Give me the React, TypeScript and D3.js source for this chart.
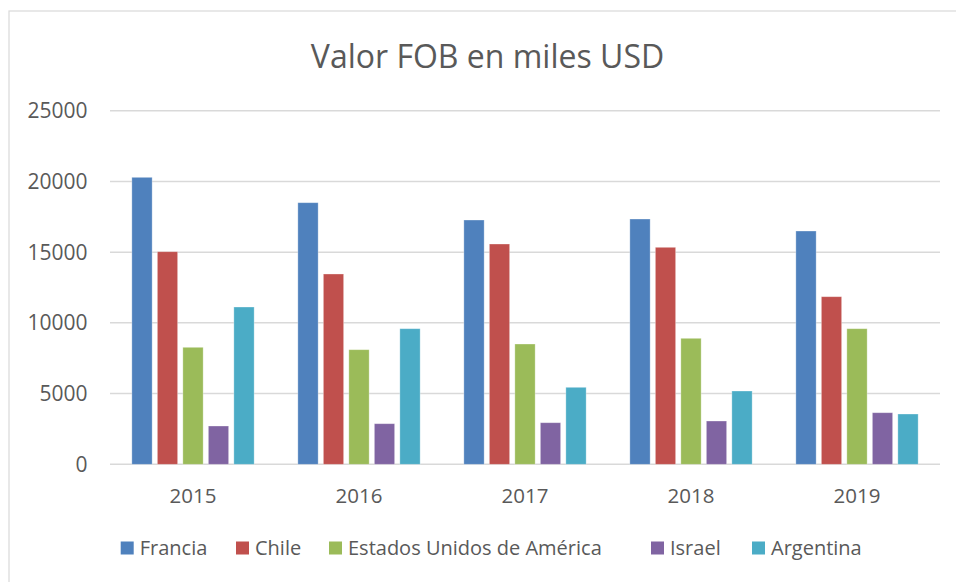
import React from "react";
import * as d3 from "d3";

const years = ["2015", "2016", "2017", "2018", "2019"];
const seriesNames = ["Francia", "Chile", "Estados Unidos de América", "Israel", "Argentina"];
const francia = [20290, 18496, 17272, 17343, 16494];
const chile = [15031, 13455, 15575, 15342, 11850];
const eeuu = [8272, 8103, 8505, 8908, 9587];
const israel = [2708, 2871, 2941, 3061, 3648];
const argentina = [11121, 9588, 5444, 5182, 3556];
const yTicks = [0, 5000, 10000, 15000, 20000, 25000];
const colors = ["#4F81BD", "#C0504D", "#9BBB59", "#8064A2", "#4BACC6"];
const title = "Valor FOB en miles USD";

const seriesValues = [francia, chile, eeuu, israel, argentina];

const W = 956;
const H = 582;
const FONT = "'Open Sans', 'Liberation Sans', sans-serif";
const TXT = "#595959";

export default function App() {
  const x0 = d3.scaleBand<string>().domain(years).range([110, 940]).padding(0);
  const groupW = 122.3;
  const x1 = d3
    .scaleBand<string>()
    .domain(seriesNames)
    .range([-groupW / 2, groupW / 2])
    .paddingInner(0.204)
    .paddingOuter(0);
  const y = d3.scaleLinear().domain([0, 25000]).range([464.3, 110.7]);

  const legendX = [120.7, 236, 329, 651, 752];

  return (
    <svg
      width={W}
      height={H}
      style={{ position: "absolute", left: 0, top: 0, background: "#fff" }}
      fontFamily={FONT}
    >
      <rect x={0} y={0} width={W} height={H} fill="#fff" />
      <rect x={9} y={11} width={W + 10} height={H + 10} fill="none" stroke="#D9D9D9" strokeWidth={1.2} />
      <text x={487.5} y={67.5} textAnchor="middle" fontSize={32} fill={TXT}>
        {title}
      </text>
      {yTicks.map((t) => (
        <g key={t}>
          <line x1={110} x2={940} y1={y(t)} y2={y(t)} stroke="#D9D9D9" strokeWidth={1.5} />
          <text x={87.5} y={y(t)} dy="0.36em" textAnchor="end" fontSize={21} fill={TXT}>
            {t}
          </text>
        </g>
      ))}
      {years.map((yr, i) => (
        <g key={yr} transform={`translate(${(x0(yr) as number) + x0.bandwidth() / 2},0)`}>
          {seriesNames.map((s, j) => (
            <rect
              key={s}
              x={x1(s) as number}
              y={y(seriesValues[j][i])}
              width={x1.bandwidth()}
              height={y(0) - y(seriesValues[j][i])}
              fill={colors[j]}
              stroke="#ffffff"
              strokeOpacity={0.4}
              strokeWidth={0.8}
            />
          ))}
          <text x={0} y={503} textAnchor="middle" fontSize={20.5} fill={TXT}>
            {yr}
          </text>
        </g>
      ))}
      {seriesNames.map((s, j) => (
        <g key={s} transform={`translate(${legendX[j]},0)`}>
          <rect x={0} y={541.5} width={13} height={13} fill={colors[j]} />
          <text x={19} y={548} dy="0.36em" fontSize={20} fill={TXT}>
            {s}
          </text>
        </g>
      ))}
    </svg>
  );
}
